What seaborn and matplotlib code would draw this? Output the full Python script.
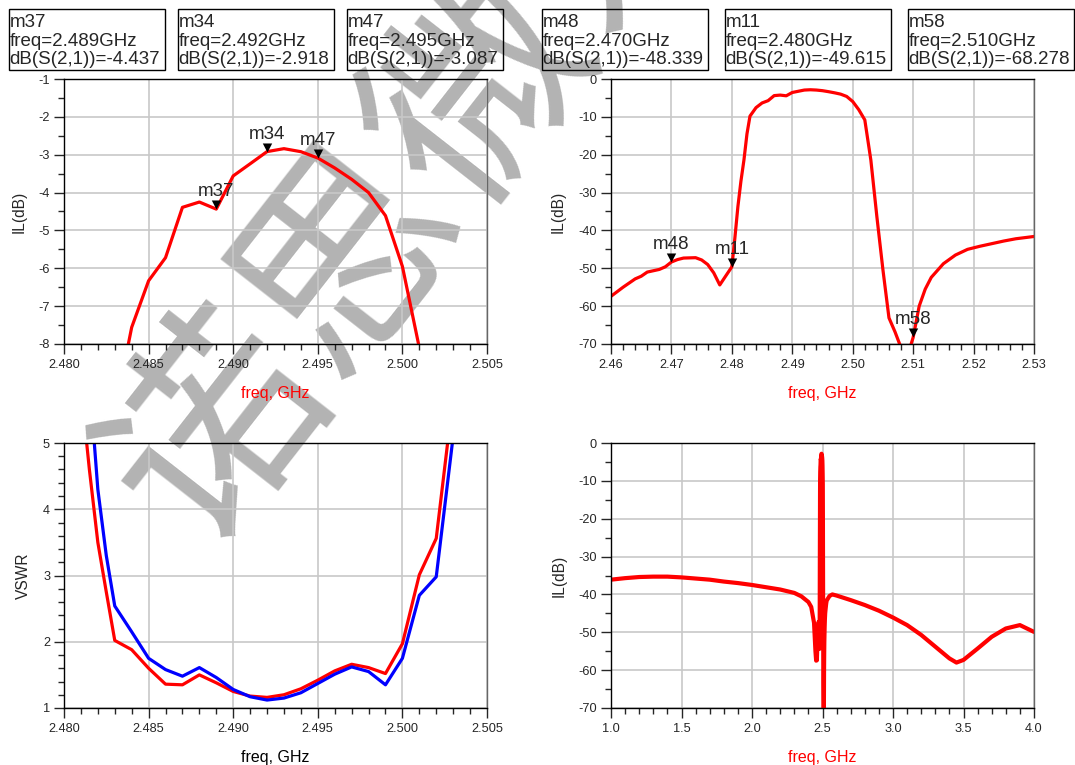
import numpy as np
import pandas as pd
import matplotlib
matplotlib.use("Agg")
import matplotlib.pyplot as plt
import matplotlib.ticker as mticker
from matplotlib.patches import Rectangle
import seaborn as sns

# S21 passband detail (GHz, dB)
freq_pb = [2.483, 2.484, 2.485, 2.486, 2.487, 2.488, 2.489, 2.490, 2.491, 2.492,
           2.493, 2.494, 2.495, 2.496, 2.497, 2.498, 2.499, 2.500, 2.501]
s21_pb = [-9.8, -7.56, -6.33, -5.72, -4.39, -4.25, -4.437, -3.56, -3.24, -2.918,
          -2.84, -2.92, -3.087, -3.35, -3.65, -4.0, -4.61, -5.95, -8.1]

# S21 around the band
freq_nb = [2.460, 2.462, 2.464, 2.465, 2.466, 2.468, 2.469, 2.470, 2.471, 2.472,
           2.474, 2.475, 2.476, 2.477, 2.478, 2.479, 2.480, 2.4805, 2.481, 2.4815,
           2.482, 2.4825, 2.483, 2.484, 2.485, 2.486, 2.487, 2.488, 2.489, 2.490,
           2.491, 2.492, 2.493, 2.494, 2.495, 2.496, 2.497, 2.498, 2.499, 2.500,
           2.501, 2.502, 2.503, 2.504, 2.505, 2.506, 2.507, 2.508, 2.509, 2.510,
           2.511, 2.512, 2.513, 2.515, 2.517, 2.519, 2.521, 2.523, 2.525, 2.527, 2.530]
s21_nb = [-57.4, -55.0, -52.8, -52.1, -51.0, -50.3, -49.6, -48.339, -47.7, -47.3,
          -47.2, -47.8, -49.0, -51.2, -54.4, -52.0, -49.615, -42.0, -33.7, -27.0,
          -21.4, -14.5, -9.8, -7.56, -6.33, -5.72, -4.39, -4.25, -4.437, -3.56,
          -3.24, -2.918, -2.84, -2.92, -3.087, -3.35, -3.65, -4.0, -4.61, -5.95,
          -8.1, -10.8, -21.4, -36.4, -50.4, -63.1, -66.8, -71.0, -73.5, -68.278,
          -60.0, -55.5, -52.4, -48.8, -46.5, -45.0, -44.2, -43.5, -42.8, -42.2, -41.6]

# VSWR of port 1 (red) and port 2 (blue)
freq_vswr = [2.481, 2.4815, 2.482, 2.4825, 2.483, 2.484, 2.485, 2.486, 2.487, 2.488,
             2.489, 2.490, 2.491, 2.492, 2.493, 2.494, 2.495, 2.496, 2.497, 2.498,
             2.499, 2.500, 2.501, 2.502, 2.503, 2.504]
vswr_1 = [5.85, 4.6, 3.5, 2.75, 2.02, 1.88, 1.60, 1.36, 1.35, 1.50,
          1.38, 1.25, 1.18, 1.16, 1.20, 1.29, 1.42, 1.56, 1.66, 1.61,
          1.52, 1.97, 3.01, 3.56, 5.7, 8.5]
vswr_2 = [7.5, 5.97, 4.3, 3.3, 2.54, 2.15, 1.75, 1.58, 1.48, 1.61,
          1.46, 1.28, 1.17, 1.12, 1.15, 1.23, 1.37, 1.51, 1.62, 1.55,
          1.35, 1.75, 2.70, 2.98, 5.1, 8.0]

# wideband S21, below and above the narrow sweep
freq_wb_lo = [1.0, 1.1, 1.2, 1.3, 1.4, 1.5, 1.6, 1.7, 1.8, 1.9, 2.0,
              2.1, 2.2, 2.3, 2.35, 2.4, 2.42, 2.44, 2.45, 2.455]
s21_wb_lo = [-36.1, -35.7, -35.4, -35.3, -35.3, -35.5, -35.8, -36.1, -36.6, -37.0, -37.5,
             -38.1, -38.7, -39.6, -40.5, -42.0, -43.3, -47.5, -55.0, -57.5]
freq_wb_hi = [2.55, 2.57, 2.6, 2.7, 2.8, 2.9, 3.0, 3.1, 3.2, 3.3,
              3.4, 3.45, 3.5, 3.6, 3.7, 3.8, 3.9, 4.0]
s21_wb_hi = [-40.4, -40.0, -40.3, -41.5, -42.8, -44.3, -46.1, -48.1, -50.7, -53.8,
             -56.9, -58.0, -57.3, -54.3, -51.2, -49.0, -48.1, -49.9]

freq_wb = freq_wb_lo + freq_nb + freq_wb_hi
s21_wb = s21_wb_lo + s21_nb + s21_wb_hi

# markers
mk_left = ["m37", "m34", "m47"]
mk_left_f = [2.489, 2.492, 2.495]
mk_left_v = [-4.437, -2.918, -3.087]
mk_right = ["m48", "m11", "m58"]
mk_right_f = [2.470, 2.480, 2.510]
mk_right_v = [-48.339, -49.615, -68.278]

sns.set_style("ticks")
plt.rcParams["font.family"] = ["Liberation Sans", "DejaVu Sans"]
plt.rcParams["axes.unicode_minus"] = False

W, H = 1075, 765
fig = plt.figure(figsize=(W / 100, H / 100), dpi=100)
fig.patch.set_facecolor("white")


def px_rect(l, t, r, b):
    return [l / W, 1 - b / H, (r - l) / W, (b - t) / H]


# watermark behind the plots
wm = fig.add_axes([0, 0, 1, 1], zorder=0)
wm.set_axis_off()
wm.text(153 / W, 1 - 513 / H, "诺思微系统", transform=wm.transAxes,
        family=["Noto Sans CJK SC"], fontsize=155, color="#b3b3b3",
        rotation=52, rotation_mode="anchor", ha="left", va="center")

tri = [(-0.52, 1.0), (0.52, 1.0), (0.0, 0.0)]


def style_axes(ax, xlim, ylim, xmaj, xmin, ymaj, ymin, xfmt, xlab, xcol, ylab, ylx):
    ax.set_facecolor("none")
    ax.set_xlim(*xlim)
    ax.set_ylim(*ylim)
    ax.xaxis.set_major_locator(mticker.MultipleLocator(xmaj))
    ax.xaxis.set_minor_locator(mticker.MultipleLocator(xmin))
    ax.yaxis.set_major_locator(mticker.MultipleLocator(ymaj))
    ax.yaxis.set_minor_locator(mticker.MultipleLocator(ymin))
    ax.xaxis.set_major_formatter(mticker.FormatStrFormatter(xfmt))
    ax.yaxis.set_major_formatter(mticker.FormatStrFormatter("%d"))
    ax.grid(True, which="major", color="#c8c8c8", lw=1.2)
    ax.set_axisbelow(True)
    for s in ax.spines.values():
        s.set_visible(True)
        s.set_color("black")
        s.set_linewidth(1.0)
    ax.spines["right"].set_color("#666666")
    ax.tick_params(which="major", direction="out", length=7, width=1, labelsize=9.2, pad=3)
    ax.tick_params(which="minor", direction="out", length=4, width=1)
    ax.tick_params(axis="x", which="major", pad=4)
    ax.tick_params(right=False, top=False, which="both")
    ax.set_xlabel(xlab, fontsize=11.5, color=xcol)
    ax.xaxis.set_label_coords(0.5, -0.185)
    ax.xaxis.label.set_verticalalignment("center")
    ax.set_ylabel(ylab, fontsize=11.2)
    ax.yaxis.set_label_coords(ylx, 0.5)
    ax.yaxis.label.set_verticalalignment("center")
    ax.yaxis.label.set_horizontalalignment("center")


def add_markers(ax, names, fs, vs):
    for n, f, v in zip(names, fs, vs):
        ax.plot(f, v, marker=tri, ms=13, mew=0, color="black", ls="none",
                clip_on=False, zorder=5)
        ax.annotate(n, (f, v), xytext=(0, 9.4), textcoords="offset points",
                    ha="center", va="baseline", fontsize=13.5, zorder=6)


# top left: passband IL
ax1 = fig.add_axes(px_rect(64, 79, 487, 344), zorder=1)
sns.lineplot(x=freq_pb, y=s21_pb, ax=ax1, color="red", lw=2.3, estimator=None)
style_axes(ax1, (2.480, 2.505), (-8, -1), 0.005, 0.001, 1, 0.5, "%.3f",
           "freq, GHz", "red", "IL(dB)", -0.106)
add_markers(ax1, mk_left, mk_left_f, mk_left_v)

# top right: IL around band
ax2 = fig.add_axes(px_rect(611, 79, 1034, 344), zorder=1)
sns.lineplot(x=freq_nb, y=s21_nb, ax=ax2, color="red", lw=2.3, estimator=None)
style_axes(ax2, (2.46, 2.53), (-70, 0), 0.01, 0.002, 10, 5, "%.2f",
           "freq, GHz", "red", "IL(dB)", -0.124)
add_markers(ax2, mk_right, mk_right_f, mk_right_v)

# bottom left: VSWR
ax3 = fig.add_axes(px_rect(64, 443, 487, 708), zorder=1)
vs = pd.DataFrame({"freq": freq_vswr * 2, "vswr": vswr_1 + vswr_2,
                   "port": ["1"] * len(vswr_1) + ["2"] * len(vswr_2)})
sns.lineplot(data=vs, x="freq", y="vswr", hue="port", palette=["red", "blue"],
             hue_order=["1", "2"], ax=ax3, lw=2.3, estimator=None, legend=False)
style_axes(ax3, (2.480, 2.505), (1, 5), 0.005, 0.001, 1, 0.2, "%.3f",
           "freq, GHz", "black", "VSWR", -0.096)

# bottom right: wideband IL
ax4 = fig.add_axes(px_rect(611, 443, 1034, 708), zorder=1)
sns.lineplot(x=freq_wb, y=s21_wb, ax=ax4, color="red", lw=3.0, estimator=None)
style_axes(ax4, (1.0, 4.0), (-70, 0), 0.5, 0.1, 10, 5, "%.1f",
           "freq, GHz", "red", "IL(dB)", -0.123)

# marker readout boxes
boxes = [(8.7, 165), (177.6, 334), (346.5, 503), (541.7, 708), (724.5, 891), (907.6, 1074)]
all_names = mk_left + mk_right
all_f = mk_left_f + mk_right_f
all_v = mk_left_v + mk_right_v
for (bl, br), n, f, v in zip(boxes, all_names, all_f, all_v):
    fig.patches.append(Rectangle((bl / W, 1 - 69.7 / H), (br - bl) / W, (69.7 - 9) / H,
                                 transform=fig.transFigure, fill=False,
                                 ec="black", lw=1.0, zorder=4))
    lines = [n, f"freq={f:.3f}GHz", f"dB(S(2,1))={v:.3f}"]
    for txt, base in zip(lines, [27.3, 45.7, 64.0]):
        fig.text((bl + 1.0) / W, 1 - base / H, txt, fontsize=13.5,
                 ha="left", va="baseline", zorder=5)

fig.savefig("out.png", dpi=100)
